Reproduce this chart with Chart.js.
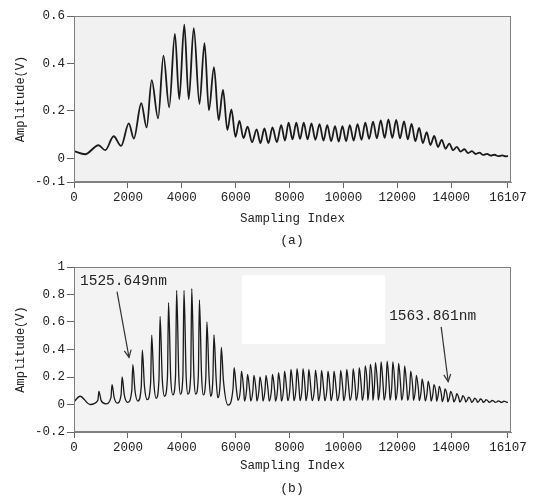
<!DOCTYPE html>
<html><head><meta charset="utf-8">
<script src="https://cdn.jsdelivr.net/npm/chart.js@4/dist/chart.umd.min.js"></script>
<style>
html,body{margin:0;padding:0;background:#fff;}
#wrap{position:relative;width:534px;height:497px;overflow:hidden;}
.c{position:absolute;left:0;width:534px;}
.cap{position:absolute;left:0;width:584px;text-align:center;font:13px 'Liberation Mono',monospace;color:#222;}
</style></head><body>
<div id="wrap">
<div class="c" style="top:0;height:250px"><canvas id="ca" width="534" height="250"></canvas></div>
<div class="c" style="top:250px;height:247px"><canvas id="cb" width="534" height="247"></canvas></div>
<div class="cap" style="top:233px">(a)</div>
<div class="cap" style="top:481px">(b)</div>
</div>
<script>
// ---------- data ----------
const xTickValues = [0, 2000, 4000, 6000, 8000, 10000, 12000, 14000, 16107];
const xTickLabels = ['0','2000','4000','6000','8000','10000','12000','14000','16107'];
const aYTickValues = [-0.1, 0, 0.2, 0.4, 0.6];
const aYTickLabels = ['-0.1','0','0.2','0.4','0.6'];
const bYTickValues = [-0.2, 0, 0.2, 0.4, 0.6, 0.8, 1];
const bYTickLabels = ['-0.2','0','0.2','0.4','0.6','0.8','1'];

// (a) signal: alternating extrema
const aX = [0,412,910,1160,1473,1748,2034,2222,2497,2697,2884,3121,3321,3533,3745,3907,4094,4257,4445,4657,4844,5007,5195,5368,5531,5693,5843,5993,6140,6290,6442,6610,6779,6920,7067,7215,7367,7530,7690,7830,7965,8110,8251,8390,8528,8670,8813,8960,9113,9260,9401,9545,9689,9825,9963,10100,10236,10380,10524,10670,10813,10955,11100,11240,11385,11530,11670,11815,11960,12100,12250,12390,12530,12670,12810,12950,13090,13230,13370,13510,13650,13790,13930,14070,14210,14350,14490,14630,14770,14910,15050,15190,15330,15470,15610,15750,15890,16030,16107];
const aY = [0.030,0.017,0.055,0.034,0.093,0.052,0.147,0.083,0.232,0.130,0.330,0.168,0.433,0.215,0.525,0.249,0.563,0.249,0.549,0.229,0.486,0.203,0.384,0.161,0.288,0.119,0.206,0.090,0.158,0.085,0.133,0.068,0.122,0.064,0.126,0.064,0.130,0.068,0.140,0.075,0.150,0.080,0.150,0.082,0.150,0.080,0.147,0.078,0.144,0.075,0.140,0.072,0.136,0.070,0.136,0.072,0.140,0.075,0.144,0.078,0.150,0.082,0.155,0.084,0.160,0.086,0.164,0.086,0.162,0.084,0.156,0.080,0.145,0.072,0.128,0.064,0.110,0.056,0.094,0.048,0.078,0.040,0.062,0.034,0.048,0.028,0.038,0.022,0.030,0.018,0.024,0.014,0.019,0.011,0.015,0.009,0.012,0.008,0.010];

// (b) signal: spikes (position, tip, base level) and the trough after each one
const bStart = [0, 0.02];
const bPeakX = [225,925,1412,1787,2184,2536,2884,3195,3509,3809,4082,4371,4655,4933,5195,5468,5944,6217,6442,6679,6903,7127,7367,7591,7816,8052,8277,8502,8715,8963,9188,9427,9652,9899,10124,10363,10588,10810,11000,11190,11397,11622,11835,12049,12273,12498,12708,12921,13146,13360,13558,13772,13981,14206,14431,14644,14869,15082,15292,15517,15742,15955];
const bPeakY = [0.06,0.096,0.145,0.2,0.29,0.395,0.505,0.64,0.74,0.83,0.83,0.843,0.76,0.6,0.507,0.415,0.268,0.243,0.218,0.211,0.2,0.211,0.218,0.231,0.243,0.255,0.26,0.26,0.255,0.25,0.248,0.243,0.243,0.248,0.255,0.26,0.268,0.28,0.292,0.304,0.309,0.316,0.309,0.299,0.28,0.243,0.211,0.187,0.169,0.145,0.132,0.113,0.096,0.079,0.064,0.054,0.047,0.04,0.035,0.03,0.027,0.025];
const bBaseY = [0.06,0.03,0.05,0.07,0.10,0.13,0.16,0.19,0.2,0.21,0.21,0.21,0.21,0.2,0.19,0.17,0.12,0.11,0.10,0.10,0.10,0.10,0.10,0.10,0.105,0.11,0.11,0.11,0.11,0.11,0.11,0.11,0.11,0.11,0.11,0.115,0.12,0.12,0.125,0.13,0.13,0.13,0.13,0.125,0.12,0.11,0.10,0.09,0.085,0.075,0.07,0.06,0.055,0.045,0.04,0.035,0.03,0.027,0.024,0.022,0.02,0.019];
const bTroughX = [600,1180,1600,1990,2370,2720,3050,3360,3670,3950,4230,4520,4800,5070,5335,5718,6090,6330,6560,6790,7015,7245,7480,7700,7935,8165,8390,8610,8840,9075,9310,9540,9775,10010,10245,10475,10700,10905,11095,11295,11510,11730,11940,12160,12385,12600,12815,13035,13255,13460,13665,13875,14095,14320,14540,14755,14975,15185,15405,15630,15850,16107];
const bTroughY = [0.0,0.005,0.01,0.015,0.025,0.035,0.045,0.06,0.07,0.075,0.075,0.075,0.07,0.06,0.05,-0.005,0.03,0.025,0.025,0.025,0.025,0.025,0.025,0.025,0.028,0.028,0.028,0.028,0.028,0.028,0.028,0.028,0.028,0.028,0.03,0.03,0.03,0.03,0.03,0.032,0.032,0.032,0.032,0.032,0.03,0.03,0.028,0.026,0.025,0.024,0.022,0.02,0.02,0.018,0.018,0.016,0.016,0.015,0.015,0.015,0.015,0.015];

// annotations of (b)
const bNotes = [
  {text:'1525.649nm', tx:223, ty:0.895, from:[1597,0.821], to:[2042,0.343]},
  {text:'1563.861nm', tx:11697, ty:0.645, from:[13628,0.564], to:[13888,0.167]}
];

// ---------- build ----------
const aData = aX.map((x,i)=>({x, y:aY[i]}));
const bData = [{x:bStart[0], y:bStart[1]}];
bPeakX.forEach((px,i)=>{
  if (bBaseY[i] >= bPeakY[i]) { bData.push({x:px, y:bPeakY[i]}); }
  else {
    bData.push({x:px-40, y:bBaseY[i]});
    bData.push({x:px, y:bPeakY[i]});
    bData.push({x:px+80, y:bBaseY[i]});
  }
  bData.push({x:bTroughX[i], y:bTroughY[i]});
});

const FONT = {family:"'Liberation Mono', monospace", size:12.5};
const TXT = '#222';

const framePlugin = {
  id:'frame',
  beforeDatasetsDraw(chart, args, opts){
    const {ctx, chartArea:a} = chart;
    ctx.save();
    ctx.fillStyle = opts.bg;
    ctx.fillRect(a.left, a.top, a.right-a.left, a.bottom-a.top);
    if (opts.white) {
      const xs = chart.scales.x, ys = chart.scales.y;
      ctx.fillStyle = '#ffffff';
      opts.white.forEach(r=>{
        const x1 = xs.getPixelForValue(r[0]), x2 = xs.getPixelForValue(r[1]);
        const y1 = ys.getPixelForValue(r[3]), y2 = ys.getPixelForValue(r[2]);
        ctx.fillRect(x1, y1, x2-x1, y2-y1);
      });
    }
    ctx.restore();
  },
  afterDraw(chart){
    const {ctx, chartArea:a} = chart;
    ctx.save();
    ctx.strokeStyle = '#808080';
    ctx.lineWidth = 1;
    ctx.strokeRect(Math.round(a.left)+0.5, Math.round(a.top)+0.5, Math.round(a.right-a.left)-1, Math.round(a.bottom-a.top)-1);
    ctx.restore();
  }
};

const notePlugin = {
  id:'notes',
  afterDatasetsDraw(chart, args, opts){
    if (!opts.items) return;
    const {ctx} = chart; const xs = chart.scales.x, ys = chart.scales.y;
    ctx.save();
    opts.items.forEach(n=>{
      ctx.font = "14.5px 'Liberation Mono', monospace";
      ctx.fillStyle = TXT; ctx.textBaseline = 'middle'; ctx.textAlign = 'left';
      ctx.fillText(n.text, xs.getPixelForValue(n.tx), ys.getPixelForValue(n.ty));
      const x1 = xs.getPixelForValue(n.from[0]), y1 = ys.getPixelForValue(n.from[1]);
      const x2 = xs.getPixelForValue(n.to[0]), y2 = ys.getPixelForValue(n.to[1]);
      ctx.strokeStyle = '#333'; ctx.lineWidth = 1.2;
      ctx.beginPath(); ctx.moveTo(x1,y1); ctx.lineTo(x2,y2); ctx.stroke();
      const ang = Math.atan2(y2-y1, x2-x1), L = 8, w = 0.45;
      ctx.beginPath();
      ctx.moveTo(x2 - L*Math.cos(ang-w), y2 - L*Math.sin(ang-w));
      ctx.lineTo(x2, y2);
      ctx.lineTo(x2 - L*Math.cos(ang+w), y2 - L*Math.sin(ang+w));
      ctx.stroke();
    });
    ctx.restore();
  }
};

function makeChart(id, data, yMin, yMax, yVals, yLabels, topPad, xHeight, lw, extra) {
  return new Chart(document.getElementById(id), {
    type:'line',
    data:{datasets:[{data, borderColor:'#1a1a1a', borderWidth:lw, pointRadius:0, fill:false, cubicInterpolationMode:'monotone'}]},
    options:{
      responsive:false, animation:false, parsing:false,
      layout:{padding:{top:topPad, right:23, left:0, bottom:0}},
      plugins:{legend:{display:false}, tooltip:{enabled:false}, frame:{bg:extra.bg, white:extra.white}, notes:{items:extra.notes}},
      scales:{
        x:{type:'linear', min:0, max:16220,
          afterBuildTicks:s=>{ s.ticks = xTickValues.map(v=>({value:v})); },
          afterFit:s=>{ s.height = xHeight; },
          grid:{drawOnChartArea:false, drawTicks:true, tickLength:6, color:'#666'},
          border:{display:true, color:'#808080'},
          ticks:{font:FONT, color:TXT, padding:2, maxRotation:0, autoSkip:false, callback:(v,i)=>xTickLabels[i]},
          title:{display:true, text:'Sampling Index', font:FONT, color:TXT, padding:{top:0, bottom:24}}
        },
        y:{type:'linear', min:yMin, max:yMax,
          afterBuildTicks:s=>{ s.ticks = yVals.map(v=>({value:v})); },
          afterFit:s=>{ s.width = 74; },
          grid:{drawOnChartArea:false, drawTicks:true, tickLength:7, color:'#666'},
          border:{display:true, color:'#808080'},
          ticks:{font:FONT, color:TXT, padding:2, autoSkip:false, callback:(v,i)=>yLabels[i]},
          title:{display:true, text:'Amplitude(V)', font:{family:FONT.family, size:12}, color:TXT, padding:{top:14, bottom:0}}
        }
      }
    },
    plugins:[framePlugin, notePlugin]
  });
}

makeChart('ca', aData, -0.1, 0.6, aYTickValues, aYTickLabels, 16, 68, 1.8, {bg:'#f1f1f1'});
makeChart('cb', bData, -0.2, 1, bYTickValues, bYTickLabels, 17, 65, 1.3,
  {bg:'#f3f3f3', notes:bNotes, white:[[6238,11548,0.44,0.94]]});
</script>
</body></html>
